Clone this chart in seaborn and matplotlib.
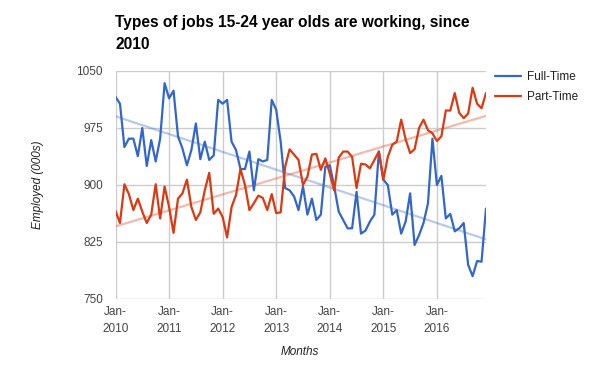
import numpy as np
import pandas as pd
import matplotlib
matplotlib.use("Agg")
import matplotlib.pyplot as plt
import seaborn as sns

# monthly values, Jan-2010 .. Dec-2016 (employed, 000s)
full_time = [1016, 1007, 950, 961, 961, 938, 975, 925, 959, 931, 961, 1034,
             1014, 1024, 964, 948, 926, 946, 981, 934, 957, 933, 939, 1012,
             1007, 1012, 957, 946, 921, 921, 944, 893, 934, 931, 933, 1012,
             999, 957, 896, 893, 885, 867, 898, 861, 882, 854, 861, 924,
             926, 898, 865, 854, 843, 843, 891, 836, 840, 852, 861, 944,
             907, 900, 861, 867, 836, 852, 889, 821, 834, 850, 876, 961,
             900, 912, 856, 862, 839, 843, 850, 795, 780, 800, 799, 869]
part_time = [866, 850, 901, 888, 867, 882, 865, 850, 861, 901, 856, 898,
             871, 837, 882, 889, 907, 871, 854, 864, 893, 916, 862, 869,
             858, 831, 871, 887, 921, 900, 867, 876, 886, 883, 867, 888,
             863, 864, 924, 947, 940, 933, 900, 911, 940, 941, 920, 935,
             915, 893, 936, 944, 944, 937, 896, 928, 927, 922, 933, 944,
             907, 937, 953, 957, 986, 960, 942, 947, 975, 986, 972, 968,
             958, 964, 998, 998, 1021, 995, 988, 994, 1028, 1007, 1001, 1021]
years = ["2010", "2011", "2012", "2013", "2014", "2015", "2016"]
y_ticks = [750, 825, 900, 975, 1050]

months = np.arange(len(full_time))
df = pd.DataFrame({"Month": months, "Full-Time": full_time, "Part-Time": part_time})

blue = "#3366cc"
red = "#dc3912"

sns.set_style("whitegrid")
plt.rcParams["font.family"] = ["Liberation Sans", "DejaVu Sans"]

fig = plt.figure(figsize=(6, 3.71), dpi=100)
ax = fig.add_axes([115.5 / 600, 1 - 299 / 371, 370.5 / 600, 228 / 371])

# trend lines
sns.regplot(data=df, x="Month", y="Full-Time", scatter=False, ci=None, ax=ax,
            line_kws={"color": blue, "alpha": 0.35, "lw": 1.6})
sns.regplot(data=df, x="Month", y="Part-Time", scatter=False, ci=None, ax=ax,
            line_kws={"color": red, "alpha": 0.35, "lw": 1.6})

sns.lineplot(data=df, x="Month", y="Full-Time", color=blue, lw=1.6, ax=ax, label="Full-Time")
sns.lineplot(data=df, x="Month", y="Part-Time", color=red, lw=1.6, ax=ax, label="Part-Time")

ax.set_xlim(0, len(full_time) - 1)
ax.set_ylim(750, 1050)
ax.set_yticks(y_ticks)
ax.set_yticklabels([str(v) for v in y_ticks])
ax.set_xticks(np.arange(0, len(full_time), 12))
ax.set_xticklabels(["Jan-\n" + y for y in years], linespacing=1.6)
ax.set_xlabel("")
ax.set_ylabel("")
ax.grid(True, color="#cccccc", lw=1)
for s in ax.spines.values():
    s.set_visible(False)
ax.tick_params(axis="y", labelsize=8.5, colors="#444444", pad=9, length=0)
ax.tick_params(axis="x", labelsize=8.5, colors="#444444", pad=5, length=0)

leg = ax.legend(loc="upper left", bbox_to_anchor=(495 / 600, 1 - 71 / 371),
                bbox_transform=fig.transFigure, frameon=False, fontsize=8.5,
                handlelength=2.2, handletextpad=0.5, labelspacing=0.65,
                borderaxespad=0, borderpad=0)
for t in leg.get_texts():
    t.set_color("#222222")

fig.text(115 / 600, 1 - 15 / 371, "Types of jobs 15-24 year olds are working, since\n2010",
         ha="left", va="top", fontsize=11.2, fontweight="bold", linespacing=1.55,
         color="black")
fig.text(38 / 600, 1 - 185 / 371, "Employed (000s)", rotation=90, ha="center", va="center",
         fontsize=8.5, style="italic", color="#222222")
fig.text(300 / 600, 1 - 352 / 371, "Months", ha="center", va="center",
         fontsize=8.5, style="italic", color="#222222")

fig.savefig("out.png", dpi=100)
